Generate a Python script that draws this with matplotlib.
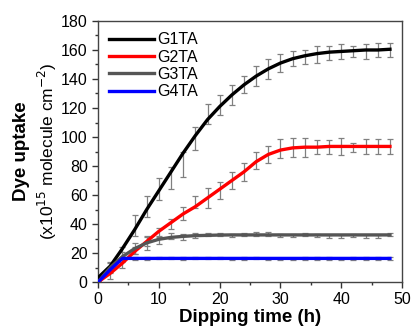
import numpy as np
import matplotlib
matplotlib.use("Agg")
import matplotlib.pyplot as plt
from matplotlib.ticker import MultipleLocator

# ==============================
# DATA
# ==============================

hours = [0, 2, 4, 6, 8, 10, 12, 14, 16, 18, 20, 22, 24,
         26, 28, 30, 32, 34, 36, 38, 40, 42, 44, 46, 48]

# smooth fit lines
g1_fit = [3, 11, 23, 36, 50, 63, 76, 89, 101, 112, 121, 129, 136,
          142, 147, 151, 154, 156, 157.5, 158.5, 159, 159.5, 160, 160, 160.5]
g2_fit = [0, 6, 13, 21, 28, 35, 41, 47, 52, 58, 64, 70, 76,
          83, 88, 91, 92.5, 93, 93, 93.5, 93.5, 93.5, 93.5, 93.5, 93.5]
g3_fit = [0, 10, 17.5, 23, 27, 29.5, 30.8, 31.5, 32, 32.2, 32.4, 32.5, 32.5,
          32.5, 32.5, 32.5, 32.5, 32.5, 32.5, 32.5, 32.5, 32.5, 32.5, 32.5, 32.5]
g4_fit = [0, 8.5, 16.3, 16.3, 16.3, 16.3, 16.3, 16.3, 16.3, 16.3, 16.3, 16.3, 16.3,
          16.3, 16.3, 16.3, 16.3, 16.3, 16.3, 16.3, 16.3, 16.3, 16.3, 16.3, 16.3]

# measured means and errors
g1_mean = [3, 10, 19, 39, 52, 64, 72, 81, 99, 116, 122, 129, 136,
           142, 147, 151, 154, 155, 157, 158, 159, 159, 159, 160, 160]
g1_err = [1, 4, 5, 7.5, 7, 7.5, 7.5, 8.7, 8, 7, 7, 7, 6,
          7, 7, 6, 5, 5, 6, 5, 5, 4, 5, 5, 5]

g2_mean = [0, 5, 13, 23, 27, 34, 40, 47, 55, 58, 63, 70, 76,
           84, 88, 92, 93, 93, 93, 93, 93.5, 93, 93.5, 93.5, 93.5]
g2_err = [1, 3, 3, 4, 5, 3, 3.5, 4.5, 4, 7, 6, 6, 6,
          6, 6, 6.5, 6.5, 6.5, 5, 5, 6, 3, 5, 5, 5]

g3_mean = [0, 10, 18, 22, 28, 29, 31.5, 31, 32, 33, 32.5, 32, 33,
           33, 33, 32, 32, 33, 32, 31.5, 31.5, 32, 31.5, 31.5, 32.5]
g3_err = [1, 3, 3, 2.5, 3, 3, 2, 2, 1.5, 1, 1, 1, 1,
          1.5, 1.5, 1, 1, 1, 1, 1, 1, 1, 1, 1, 1]

g4_mean = [0, 9, 16, 16, 16.5, 16.5, 16.5, 16.5, 16.5, 16.5, 16.8, 16, 16.3,
           16.5, 16, 16, 16, 16.3, 16.3, 16.3, 16, 16.3, 16.3, 16.3, 16.3]
g4_err = [0.5, 1, 1, 1, 1, 0.8, 0.8, 1, 0.8, 0.8, 0.8, 0.8, 0.8,
          0.8, 0.8, 0.8, 0.8, 0.8, 0.8, 0.8, 0.8, 0.8, 0.8, 0.8, 0.8]

labels = ["G1TA", "G2TA", "G3TA", "G4TA"]
colors = ["#000000", "#ff0000", "#555555", "#0000ff"]

# ==============================
# PLOT
# ==============================

plt.rcParams["font.family"] = ["Liberation Sans", "DejaVu Sans"]

fig = plt.figure(figsize=(4.12, 3.33), dpi=100)
ax = fig.add_axes([0.238, 0.153, 0.738, 0.784])

fits = [g1_fit, g2_fit, g3_fit, g4_fit]
means = [g1_mean, g2_mean, g3_mean, g4_mean]
errs = [g1_err, g2_err, g3_err, g4_err]

for fit, mean, err, label, color in zip(fits, means, errs, labels, colors):
    ax.errorbar(hours, mean, yerr=err, fmt="none", ecolor="#808080",
                elinewidth=0.9, capsize=2.5, capthick=0.9, zorder=2)
    ax.plot(hours, fit, color=color, lw=2.4, label=label, zorder=3)

ax.set_xlim(0, 50)
ax.set_ylim(0, 180)
ax.xaxis.set_major_locator(MultipleLocator(10))
ax.xaxis.set_minor_locator(MultipleLocator(5))
ax.yaxis.set_major_locator(MultipleLocator(20))
ax.yaxis.set_minor_locator(MultipleLocator(10))

ax.tick_params(which="both", direction="out", top=False, right=False,
               labelsize=11.5, color="#333333")
ax.tick_params(which="major", length=4, width=1)
ax.tick_params(which="minor", length=2.5, width=1)
for s in ax.spines.values():
    s.set_color("#444444")
    s.set_linewidth(1)

ax.set_xlabel("Dipping time (h)", fontsize=13.5, fontweight="bold", labelpad=1)

fig.text(0.053, 0.545, "Dye uptake", rotation=90, fontsize=13.5,
         fontweight="bold", ha="center", va="center")
fig.text(0.114, 0.545, "(x10$^{15}$ molecule cm$^{-2}$)", rotation=90,
         fontsize=12.5, ha="center", va="center")

ax.legend(loc="upper left", frameon=False, fontsize=11.5, handlelength=2.8,
          handletextpad=0.2, labelspacing=0.15, borderaxespad=0.3)

fig.savefig("out.png", dpi=100)
